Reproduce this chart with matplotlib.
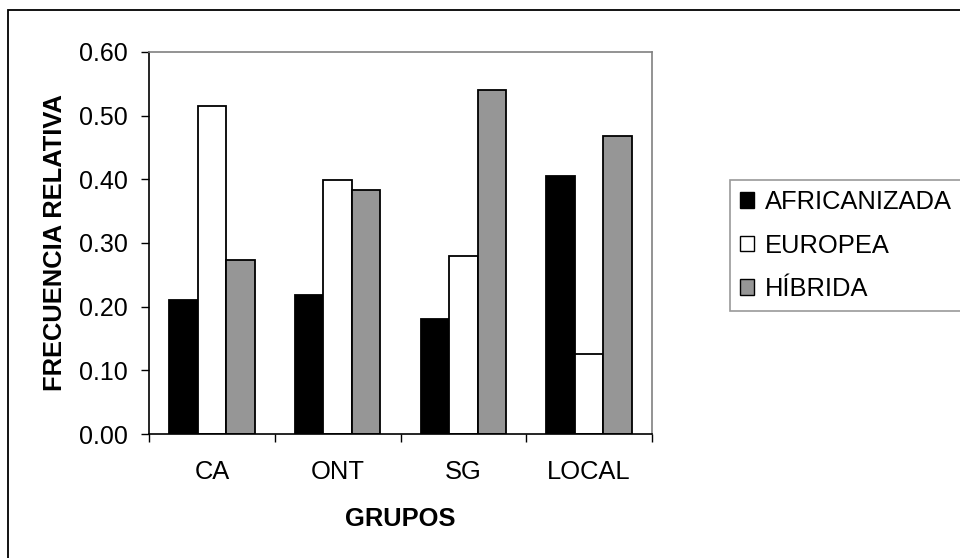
import numpy as np
import matplotlib
matplotlib.use('Agg')
from matplotlib import pyplot as plt
from matplotlib.patches import Rectangle

plt.rcParams['font.family'] = ['Liberation Sans', 'DejaVu Sans']

grupos       = ['CA', 'ONT', 'SG', 'LOCAL']
africanizada = [0.21, 0.218, 0.18, 0.406]
europea      = [0.515, 0.399, 0.28, 0.126]
hibrida      = [0.273, 0.383, 0.54, 0.468]
series_names = ['AFRICANIZADA', 'EUROPEA', 'HÍBRIDA']
y_ticks      = [0.0, 0.1, 0.2, 0.3, 0.4, 0.5, 0.6]

W, H = 960, 558
fig = plt.figure(figsize=(W/100, H/100), dpi=100)
ax = fig.add_axes([149/W, 1-434/H, (652-149)/W, (434-52)/H])

x = np.arange(len(grupos))
bw = 0.226
colors = ['black', 'white', '#969696']
for i, (vals, name) in enumerate(zip([africanizada, europea, hibrida], series_names)):
    ax.bar(x + (i-1)*bw, vals, width=bw, color=colors[i], edgecolor='black',
           linewidth=1.3, label=name, zorder=2)

ax.set_xlim(-0.5, 3.5)
ax.set_ylim(0, 0.6)
ax.set_yticks(y_ticks)
ax.set_yticklabels(['%.2f' % v for v in y_ticks])
ax.set_xticks(x)
ax.set_xticklabels(grupos)
ax.set_xticks(np.arange(-0.5, 4, 1), minor=True)
ax.tick_params(axis='x', which='major', length=0, pad=19, labelsize=18.4)
ax.tick_params(axis='x', which='minor', length=6, width=1, direction='out', color='black')
ax.tick_params(axis='y', length=6, width=1, direction='out', pad=9, labelsize=18)

for s in ['top', 'right']:
    ax.spines[s].set_color('#808080')
    ax.spines[s].set_linewidth(1.2)
for s in ['left', 'bottom']:
    ax.spines[s].set_color('black')
    ax.spines[s].set_linewidth(1.2)

ax.set_xlabel('GRUPOS', fontsize=18.4, fontweight='bold', labelpad=16)
ax.set_ylabel('FRECUENCIA RELATIVA', fontsize=18.4, fontweight='bold', labelpad=9)

leg = ax.legend(loc='upper left', bbox_to_anchor=(730/W, 1-180/H),
                bbox_transform=fig.transFigure, fontsize=18.4,
                handlelength=0.55, handleheight=0.55, handletextpad=0.4,
                labelspacing=0.76, borderpad=0.4, borderaxespad=0,
                fancybox=False, frameon=True)
leg.get_frame().set_edgecolor('#808080')
leg.get_frame().set_linewidth(1.2)
for p in leg.get_patches():
    p.set_linewidth(1.0)

# outer border of the chart area
fig.patches.append(Rectangle((8/W, -0.1), 1.1, 1.1 - 10/H, transform=fig.transFigure,
                             fill=False, edgecolor='black', linewidth=1.3))

fig.savefig('out.png', dpi=100)
